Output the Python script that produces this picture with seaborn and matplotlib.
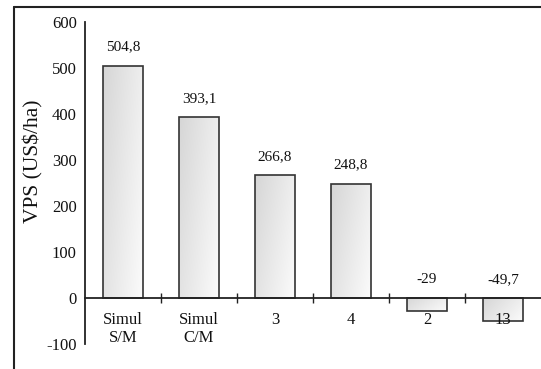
import numpy as np
import pandas as pd
import matplotlib
matplotlib.use("Agg")
import matplotlib.pyplot as plt
from matplotlib.lines import Line2D
from matplotlib.colors import LinearSegmentedColormap
import seaborn as sns

# Economic return (VPS) per scenario
categories = ["Simul\nS/M", "Simul\nC/M", "3", "4", "2", "13"]
values = [504.8, 393.1, 266.8, 248.8, -29.0, -49.7]
value_labels = ["504,8", "393,1", "266,8", "248,8", "-29", "-49,7"]
yticks = [-100, 0, 100, 200, 300, 400, 500, 600]

sns.set_theme(style="white")
plt.rcParams["font.family"] = ["Liberation Serif", "DejaVu Serif"]

df = pd.DataFrame({"cat": categories, "vps": values})

fig = plt.figure(figsize=(5.41, 3.69), dpi=100)
ax = fig.add_axes([85 / 541, 1 - 344 / 369, 1 - 85 / 541, (344 - 22) / 369])

sns.barplot(data=df, x="cat", y="vps", order=categories, color="#e8e8e8",
            edgecolor="#333333", linewidth=1.2, width=0.52, ax=ax,
            errorbar=None, zorder=2)

# soft diagonal shading inside each bar
shade = LinearSegmentedColormap.from_list("shade", ["#d6d6d6", "#fbfbfb"])
gx, gy = np.meshgrid(np.linspace(0, 1, 64), np.linspace(0, 1, 64))
grad = 0.65 * gx + 0.35 * gy
for patch in ax.patches:
    x0, y0 = patch.get_x(), patch.get_y()
    w, h = patch.get_width(), patch.get_height()
    ylo, yhi = min(y0, y0 + h), max(y0, y0 + h)
    im = ax.imshow(grad, cmap=shade, origin="upper", aspect="auto",
                   extent=(x0, x0 + w, ylo, yhi), zorder=1.6)
    im.set_clip_path(patch)
    patch.set_facecolor("none")
    patch.set_zorder(2)

# tick labels sit on top of the bars
ax.set_axisbelow(False)

ax.set_xlim(-0.5, 5.5)
ax.set_ylim(-100, 600)
ax.set_yticks(yticks)
ax.set_yticklabels([str(t) for t in yticks])

# value labels above the bars (or above the axis for negative ones)
for i, (v, lab) in enumerate(zip(values, value_labels)):
    base = max(v, 0)
    ax.annotate(lab, (i, base), xytext=(0, 13.5), textcoords="offset points",
                ha="center", va="center", fontsize=11, color="#111111")

# axes styling
for side in ["top", "right"]:
    ax.spines[side].set_visible(False)
ax.spines["bottom"].set_position(("data", 0))
ax.spines["bottom"].set_color("#222222")
ax.spines["bottom"].set_linewidth(1.3)
ax.spines["left"].set_color("#222222")
ax.spines["left"].set_linewidth(1.3)
ax.spines["bottom"].set_zorder(4)

ax.tick_params(axis="y", length=0, pad=6, labelsize=12, colors="#111111")
ax.tick_params(axis="x", which="major", length=0, pad=10, labelsize=12,
               colors="#111111")
ax.set_xticks([0.5, 1.5, 2.5, 3.5, 4.5], minor=True)
ax.tick_params(axis="x", which="minor", bottom=True, direction="inout",
               length=7, width=1.0, color="#222222")
for lbl in ax.get_xticklabels():
    lbl.set_linespacing(1.15)

ax.set_xlabel("")
ax.set_ylabel("VPS (US$/ha)", fontsize=15.5, color="#111111")
ax.yaxis.set_label_coords(-0.092, 0.568)

# outer frame lines
fig.add_artist(Line2D([13.5 / 541, 13.5 / 541], [0, 1 - 7 / 369],
                      transform=fig.transFigure, color="#222222", lw=1.5))
fig.add_artist(Line2D([13.5 / 541, 1], [1 - 7 / 369, 1 - 7 / 369],
                      transform=fig.transFigure, color="#222222", lw=1.5))

fig.savefig("out.png", dpi=100)
